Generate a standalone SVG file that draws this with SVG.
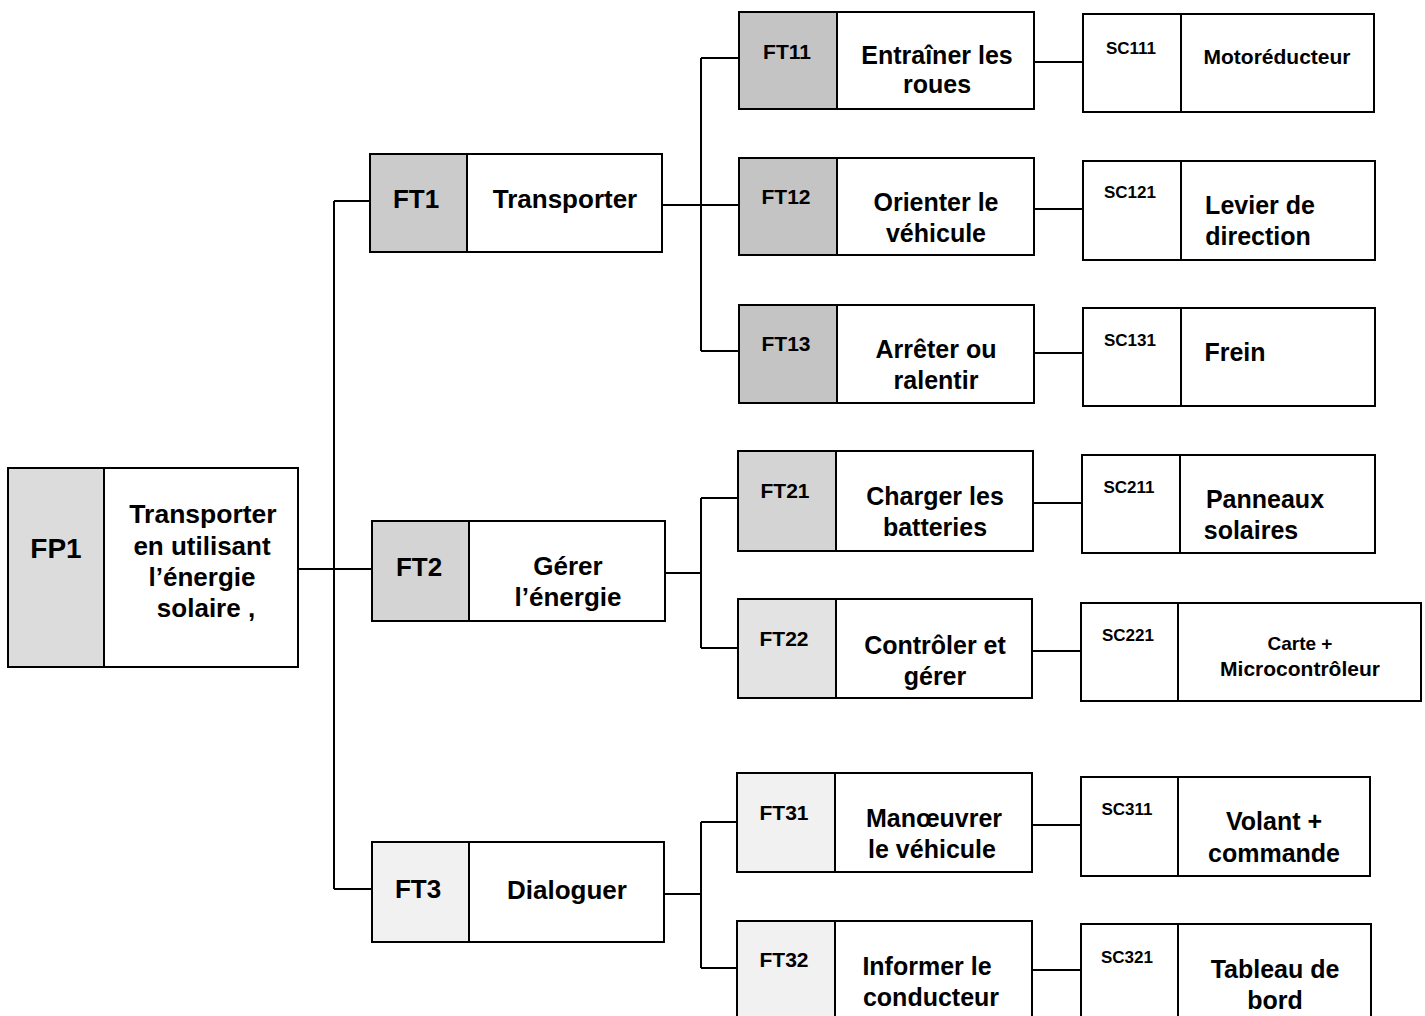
<svg xmlns="http://www.w3.org/2000/svg" width="1425" height="1016" viewBox="0 0 1425 1016">
<style>
rect{stroke:#000;stroke-width:2}
.box{fill:#fff}
.g1{fill:#dcdcdc}.g2{fill:#cbcbcb}.g3{fill:#c4c4c4}.g4{fill:#d4d4d4}.g5{fill:#e3e3e3}.g6{fill:#f1f1f1}
line,path{stroke:#000;stroke-width:2;fill:none}
text{font-family:"Liberation Sans",Arial,sans-serif;font-weight:bold;fill:#000;text-anchor:middle}
.t{font-size:25px}
.c{font-size:26px}
.f{font-size:21px}
.s{font-size:17px}
.m{font-size:21px}
</style>
<rect width="1425" height="1016" fill="#fff" style="stroke:none"/>
<g id="connectors">
<path d="M298 569H334M334 201V889M334 201H370M334 569H372M334 889H372"/>
<path d="M662 205H701M701 58V351M701 58H739M701 205H739M701 351H739"/>
<path d="M665 573H701M701 498V648M701 498H738M701 648H738"/>
<path d="M664 894H701M701 822V968M701 822H737M701 968H737"/>
<path d="M1034 62H1083M1034 209H1083M1034 353H1083M1033 503H1082M1032 651H1081M1032 825H1081M1032 970H1081"/>
</g>
<g id="FP1">
<rect class="box" x="8" y="468" width="290" height="199"/>
<rect class="g1" x="8" y="468" width="96" height="199"/>
<text class="c" x="56" y="558" style="font-size:28px">FP1</text>
<text class="c" x="203" y="523" style="font-size:26.5px">Transporter</text>
<text class="c" x="202" y="555">en utilisant</text>
<text class="c" x="202" y="586">l’énergie</text>
<text class="c" x="206" y="617">solaire ,</text>
</g>
<g id="FT1">
<rect class="box" x="370" y="154" width="292" height="98"/>
<rect class="g2" x="370" y="154" width="97" height="98"/>
<text class="c" x="416" y="208">FT1</text>
<text class="c" x="565" y="208">Transporter</text>
</g>
<g id="FT2">
<rect class="box" x="372" y="521" width="293" height="100"/>
<rect class="g4" x="372" y="521" width="97" height="100"/>
<text class="c" x="419" y="576">FT2</text>
<text class="c" x="568" y="575">Gérer</text>
<text class="c" x="568" y="606">l’énergie</text>
</g>
<g id="FT3">
<rect class="box" x="372" y="842" width="292" height="100"/>
<rect class="g6" x="372" y="842" width="97" height="100"/>
<text class="c" x="418" y="898">FT3</text>
<text class="c" x="567" y="899">Dialoguer</text>
</g>
<g id="FT11">
<rect class="box" x="739" y="12" width="295" height="97"/>
<rect class="g3" x="739" y="12" width="98" height="97"/>
<text class="f" x="787" y="59">FT11</text>
<text class="t" x="937" y="64">Entraîner les</text>
<text class="t" x="937" y="93">roues</text>
</g>
<g id="FT12">
<rect class="box" x="739" y="158" width="295" height="97"/>
<rect class="g3" x="739" y="158" width="98" height="97"/>
<text class="f" x="786" y="204">FT12</text>
<text class="t" x="936" y="211">Orienter le</text>
<text class="t" x="936" y="242">véhicule</text>
</g>
<g id="FT13">
<rect class="box" x="739" y="305" width="295" height="98"/>
<rect class="g3" x="739" y="305" width="98" height="98"/>
<text class="f" x="786" y="351">FT13</text>
<text class="t" x="936" y="358">Arrêter ou</text>
<text class="t" x="936" y="389">ralentir</text>
</g>
<g id="FT21">
<rect class="box" x="738" y="451" width="295" height="100"/>
<rect class="g4" x="738" y="451" width="98" height="100"/>
<text class="f" x="785" y="498">FT21</text>
<text class="t" x="935" y="505">Charger les</text>
<text class="t" x="935" y="536">batteries</text>
</g>
<g id="FT22">
<rect class="box" x="738" y="599" width="294" height="99"/>
<rect class="g5" x="738" y="599" width="98" height="99"/>
<text class="f" x="784" y="646">FT22</text>
<text class="t" x="935" y="654">Contrôler et</text>
<text class="t" x="935" y="685">gérer</text>
</g>
<g id="FT31">
<rect class="box" x="737" y="773" width="295" height="99"/>
<rect class="g6" x="737" y="773" width="98" height="99"/>
<text class="f" x="784" y="820">FT31</text>
<text class="t" x="934" y="827">Manœuvrer</text>
<text class="t" x="932" y="858">le véhicule</text>
</g>
<g id="FT32">
<rect class="box" x="737" y="921" width="295" height="100"/>
<rect class="g6" x="737" y="921" width="98" height="100"/>
<text class="f" x="784" y="967">FT32</text>
<text class="t" x="927" y="975">Informer le</text>
<text class="t" x="931" y="1006">conducteur</text>
</g>
<g id="SC111">
<rect class="box" x="1083" y="14" width="291" height="98"/>
<line x1="1181" y1="14" x2="1181" y2="112"/>
<text class="s" x="1131" y="54">SC111</text>
<text class="m" x="1277" y="64">Motoréducteur</text>
</g>
<g id="SC121">
<rect class="box" x="1083" y="161" width="292" height="99"/>
<line x1="1181" y1="161" x2="1181" y2="260"/>
<text class="s" x="1130" y="198">SC121</text>
<text class="t" x="1260" y="214">Levier de</text>
<text class="t" x="1258" y="245">direction</text>
</g>
<g id="SC131">
<rect class="box" x="1083" y="308" width="292" height="98"/>
<line x1="1181" y1="308" x2="1181" y2="406"/>
<text class="s" x="1130" y="346">SC131</text>
<text class="t" x="1235" y="361">Frein</text>
</g>
<g id="SC211">
<rect class="box" x="1082" y="455" width="293" height="98"/>
<line x1="1180" y1="455" x2="1180" y2="553"/>
<text class="s" x="1129" y="493">SC211</text>
<text class="t" x="1265" y="508">Panneaux</text>
<text class="t" x="1251" y="539">solaires</text>
</g>
<g id="SC221">
<rect class="box" x="1081" y="603" width="340" height="98"/>
<line x1="1178" y1="603" x2="1178" y2="701"/>
<text class="s" x="1128" y="641">SC221</text>
<text class="m" x="1300" y="650" style="font-size:19px">Carte +</text>
<text class="m" x="1300" y="676">Microcontrôleur</text>
</g>
<g id="SC311">
<rect class="box" x="1081" y="777" width="289" height="99"/>
<line x1="1178" y1="777" x2="1178" y2="876"/>
<text class="s" x="1127" y="815">SC311</text>
<text class="t" x="1274" y="830">Volant +</text>
<text class="t" x="1274" y="862">commande</text>
</g>
<g id="SC321">
<rect class="box" x="1081" y="924" width="290" height="100"/>
<line x1="1178" y1="924" x2="1178" y2="1024"/>
<text class="s" x="1127" y="963">SC321</text>
<text class="t" x="1275" y="978">Tableau de</text>
<text class="t" x="1275" y="1009">bord</text>
</g>
</svg>
